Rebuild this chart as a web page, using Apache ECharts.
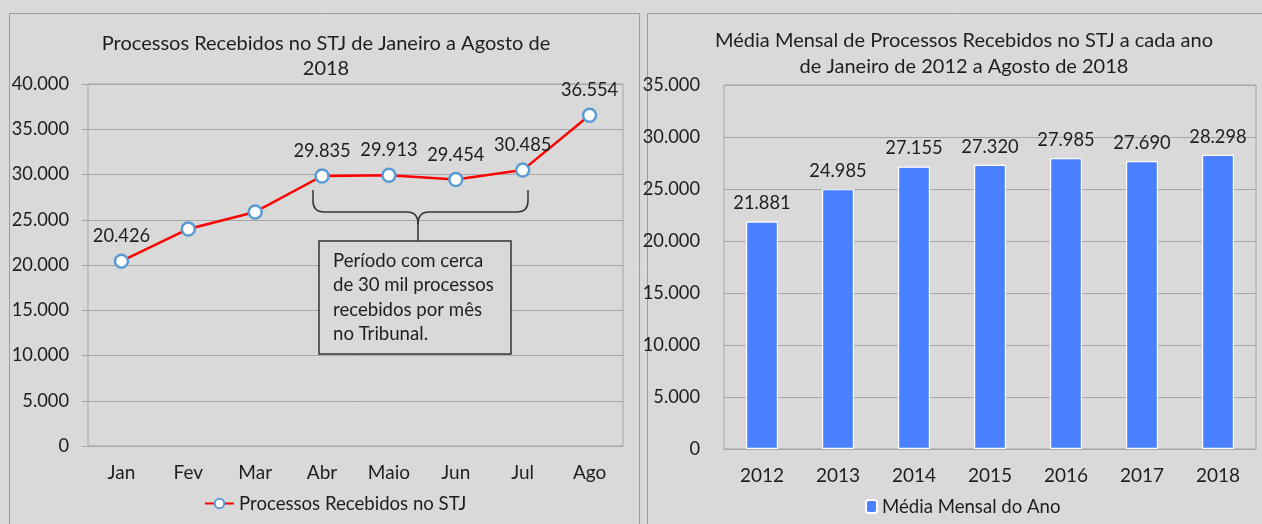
<!DOCTYPE html>
<html>
<head>
<meta charset="utf-8">
<script src="https://cdn.jsdelivr.net/npm/echarts@6/dist/echarts.min.js"></script>
<style>
html,body{margin:0;padding:0;background:#d9d9d9;}
#c{width:1262px;height:524px;}
</style>
</head>
<body>
<div id="c"></div>
<script>
const months = ['Jan','Fev','Mar','Abr','Maio','Jun','Jul','Ago'];
const received = [20426, 23980, 25860, 29835, 29913, 29454, 30485, 36554];
const showLabel = [true, false, false, true, true, true, true, true];
const years = ['2012','2013','2014','2015','2016','2017','2018'];
const monthlyAvg = [21881, 24985, 27155, 27320, 27985, 27690, 28298];
const leftTicks = [0,5000,10000,15000,20000,25000,30000,35000,40000];
const rightTicks = [0,5000,10000,15000,20000,25000,30000,35000];

const FONT = 'Lato';
const FT = 20;     // titles
const FN = 18.3;   // numbers
const FL = 18.6;   // legend / note
const FX = 19;     // category labels
const TXT = '#1e1e1e';
const fmt = v => Number(v).toLocaleString('de-DE');

const chart = echarts.init(document.getElementById('c'));
const axisCommon = {
  axisLabel:{color:TXT, fontFamily:FONT, fontSize:FN, formatter:fmt},
  axisLine:{show:false},
  axisTick:{show:true, length:6, lineStyle:{color:'#a6a6a6'}},
  splitLine:{lineStyle:{color:'#a6a6a6', width:1}}
};
const stroke = {stroke:'#333333', lineWidth:1.5, fill:'none'};
chart.setOption({
  backgroundColor:'#d9d9d9',
  textStyle:{fontFamily:FONT},
  title:[
    {text:'Processos Recebidos no STJ de Janeiro a Agosto de\n2018', left:321, top:26, textAlign:'center',
     textStyle:{fontFamily:FONT, fontSize:FT, fontWeight:'normal', color:TXT, lineHeight:25}},
    {text:'Média Mensal de Processos Recebidos no STJ a cada ano\nde Janeiro de 2012 a Agosto de 2018', left:959, top:23, textAlign:'center',
     textStyle:{fontFamily:FONT, fontSize:FT, fontWeight:'normal', color:TXT, lineHeight:26}}
  ],
  legend:[
    {data:['Processos Recebidos no STJ'], left:199, top:489, itemWidth:29, itemHeight:12, itemGap:4,
     textStyle:{fontFamily:FONT, fontSize:FL, color:TXT}},
    {data:['Média Mensal do Ano'], left:860, top:492, itemWidth:11, itemHeight:13, itemGap:4,
     textStyle:{fontFamily:FONT, fontSize:FL, color:TXT}}
  ],
  grid:[
    {left:88, top:84, width:535, height:362, show:true, borderColor:'#a6a6a6', borderWidth:1, backgroundColor:'transparent'},
    {left:724, top:85, width:532, height:364, show:true, borderColor:'#a6a6a6', borderWidth:1, backgroundColor:'transparent'}
  ],
  xAxis:[
    {type:'category', gridIndex:0, data:months, boundaryGap:true,
     axisLine:{lineStyle:{color:'#a6a6a6'}}, axisTick:{show:false},
     axisLabel:{color:TXT, fontFamily:FONT, fontSize:FX, margin:17}},
    {type:'category', gridIndex:1, data:years, boundaryGap:true,
     axisLine:{lineStyle:{color:'#a6a6a6'}}, axisTick:{show:false},
     axisLabel:{color:TXT, fontFamily:FONT, fontSize:FX, margin:17}}
  ],
  yAxis:[
    Object.assign({type:'value', gridIndex:0, min:leftTicks[0], max:leftTicks[leftTicks.length-1], interval:leftTicks[1]-leftTicks[0]}, axisCommon,
      {axisLabel:Object.assign({}, axisCommon.axisLabel, {margin:19})}),
    Object.assign({type:'value', gridIndex:1, min:rightTicks[0], max:rightTicks[rightTicks.length-1], interval:rightTicks[1]-rightTicks[0]}, axisCommon,
      {axisTick:{show:false}, axisLabel:Object.assign({}, axisCommon.axisLabel, {margin:24})})
  ],
  series:[
    {name:'Processos Recebidos no STJ', type:'line', xAxisIndex:0, yAxisIndex:0,
     data:received.map((v,i)=>({value:v, label:{show:showLabel[i]}})),
     symbol:'circle', symbolSize:13,
     lineStyle:{color:'#ff0000', width:2.5},
     itemStyle:{color:'#ffffff', borderColor:'#5b9bd5', borderWidth:2.5},
     label:{position:'top', distance:8, color:TXT, fontFamily:FONT, fontSize:FN, formatter:p=>fmt(p.value)},
     z:5},
    {name:'Média Mensal do Ano', type:'bar', xAxisIndex:1, yAxisIndex:1, data:monthlyAvg,
     barWidth:32,
     itemStyle:{color:'#4a80ff', borderColor:'#ffffff', borderWidth:1.2},
     label:{show:true, position:'top', distance:9, color:TXT, fontFamily:FONT, fontSize:FN, formatter:p=>fmt(p.value)}}
  ],
  graphic:[
    {type:'rect', shape:{x:9.5, y:13.5, width:630, height:530}, style:{fill:'none', stroke:'#9c9c9c', lineWidth:1}, z:-1},
    {type:'rect', shape:{x:647.5, y:13.5, width:630, height:530}, style:{fill:'none', stroke:'#9c9c9c', lineWidth:1}, z:-1},
    {type:'line', shape:{x1:313, y1:190, x2:313, y2:201}, style:stroke, z:10},
    {type:'bezierCurve', shape:{x1:313, y1:201, cpx1:313, cpy1:212, x2:324, y2:212}, style:stroke, z:10},
    {type:'line', shape:{x1:324, y1:212, x2:407, y2:212}, style:stroke, z:10},
    {type:'bezierCurve', shape:{x1:407, y1:212, cpx1:418, cpy1:212, x2:418, y2:224}, style:stroke, z:10},
    {type:'line', shape:{x1:418, y1:224, x2:418, y2:241}, style:stroke, z:10},
    {type:'line', shape:{x1:528, y1:190, x2:528, y2:201}, style:stroke, z:10},
    {type:'bezierCurve', shape:{x1:528, y1:201, cpx1:528, cpy1:212, x2:517, y2:212}, style:stroke, z:10},
    {type:'line', shape:{x1:517, y1:212, x2:429, y2:212}, style:stroke, z:10},
    {type:'bezierCurve', shape:{x1:429, y1:212, cpx1:418, cpy1:212, x2:418, y2:224}, style:stroke, z:10},
    {type:'rect', shape:{x:319, y:241, width:192, height:113}, style:{fill:'#d9d9d9', stroke:'#333333', lineWidth:1.5}, z:10},
    {type:'text', x:333, y:249, style:{text:'Período com cerca\nde 30 mil processos\nrecebidos por mês\nno Tribunal.', fill:TXT, font:FL+'px Lato', lineHeight:24.3}, z:11}
  ]
});
</script>
</body>
</html>
